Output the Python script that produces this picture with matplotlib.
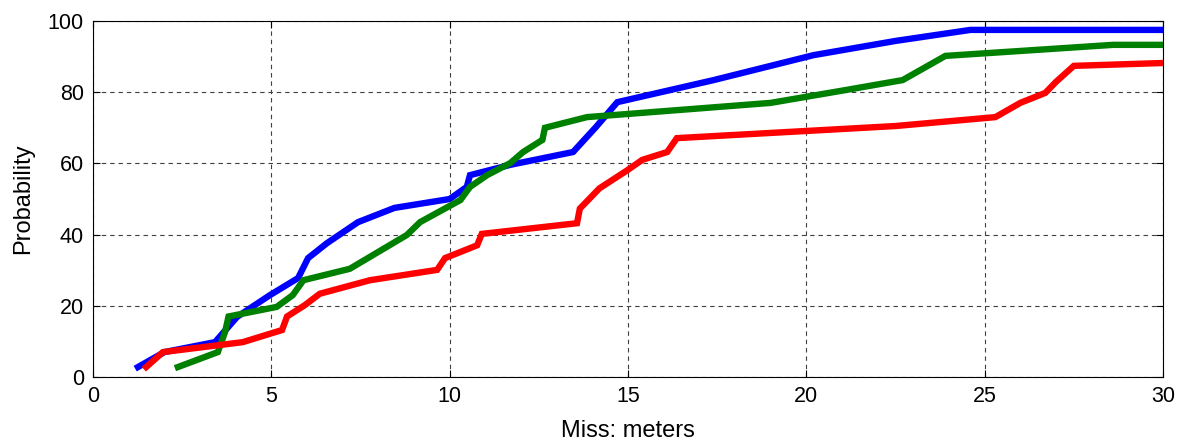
import matplotlib
matplotlib.use("Agg")
import matplotlib.pyplot as plt

plt.rcParams['font.family'] = ['Liberation Sans', 'DejaVu Sans']

# Blue curve
blue_x = [1.26, 2.0, 3.42, 4.04, 4.96, 5.75, 6.03, 6.56, 7.43, 8.45, 10.0, 10.48, 10.57,
          11.7, 13.46, 14.1, 14.7, 17.4, 20.2, 22.5, 24.6, 30.0]
blue_y = [2.8, 7.0, 9.8, 16.9, 23.0, 27.8, 33.4, 37.6, 43.5, 47.5, 50.0, 53.4, 56.7,
          59.6, 63.2, 70.2, 77.2, 83.4, 90.4, 94.4, 97.5, 97.5]

# Green curve
green_x = [2.38, 3.5, 3.7, 3.8, 5.15, 5.6, 5.9, 7.2, 8.8, 9.17, 10.3, 10.57, 11.05,
           11.7, 12.06, 12.6, 12.67, 13.85, 19.0, 21.1, 22.7, 23.3, 23.9, 28.6, 30.0]
green_y = [2.8, 7.0, 12.6, 17.0, 19.7, 23.0, 27.2, 30.4, 39.9, 43.5, 49.7, 53.4, 56.7,
           60.1, 63.2, 66.6, 70.0, 73.0, 77.0, 80.6, 83.4, 86.8, 90.2, 93.3, 93.3]

# Red curve
red_x = [1.49, 1.96, 4.2, 5.3, 5.44, 5.94, 6.36, 7.77, 9.65, 9.87, 10.77, 10.9, 13.57,
         13.65, 14.2, 14.97, 15.4, 16.1, 16.37, 22.5, 25.3, 26.0, 26.7, 27.0, 27.5, 30.0]
red_y = [2.8, 7.0, 9.8, 13.2, 17.0, 20.2, 23.4, 27.2, 30.1, 33.4, 37.0, 40.2, 43.2,
         47.3, 53.0, 58.0, 61.0, 63.2, 67.1, 70.5, 73.0, 77.0, 79.8, 82.9, 87.4, 88.2]

x_ticks = [0, 5, 10, 15, 20, 25, 30]
y_ticks = [0, 20, 40, 60, 80, 100]

fig = plt.figure(figsize=(11.82, 4.42), dpi=100)
ax = fig.add_axes([0.0787, 0.147, 0.9052, 0.8055])

lw = 4.6
ax.plot(blue_x, blue_y, color=(0, 0, 1), lw=lw, solid_joinstyle='miter', zorder=3)
ax.plot(green_x, green_y, color=(0, 0.5, 0), lw=lw, solid_joinstyle='miter', zorder=3)
ax.plot(red_x, red_y, color=(1, 0, 0), lw=lw, solid_joinstyle='miter', zorder=3)

ax.set_xlim(0, 30)
ax.set_ylim(0, 100)
ax.set_xticks(x_ticks)
ax.set_yticks(y_ticks)
ax.grid(True, color='#404040', linestyle=(0, (4, 3.5)), linewidth=0.8)
ax.tick_params(direction='in', top=True, right=True, length=5, width=0.8,
               labelsize=15.5, pad=6.5)
for s in ax.spines.values():
    s.set_linewidth(0.8)
ax.set_xlabel('Miss: meters', fontsize=17, labelpad=9)
ax.set_ylabel('Probability', fontsize=17, labelpad=10)

fig.savefig('out.png', dpi=100)
